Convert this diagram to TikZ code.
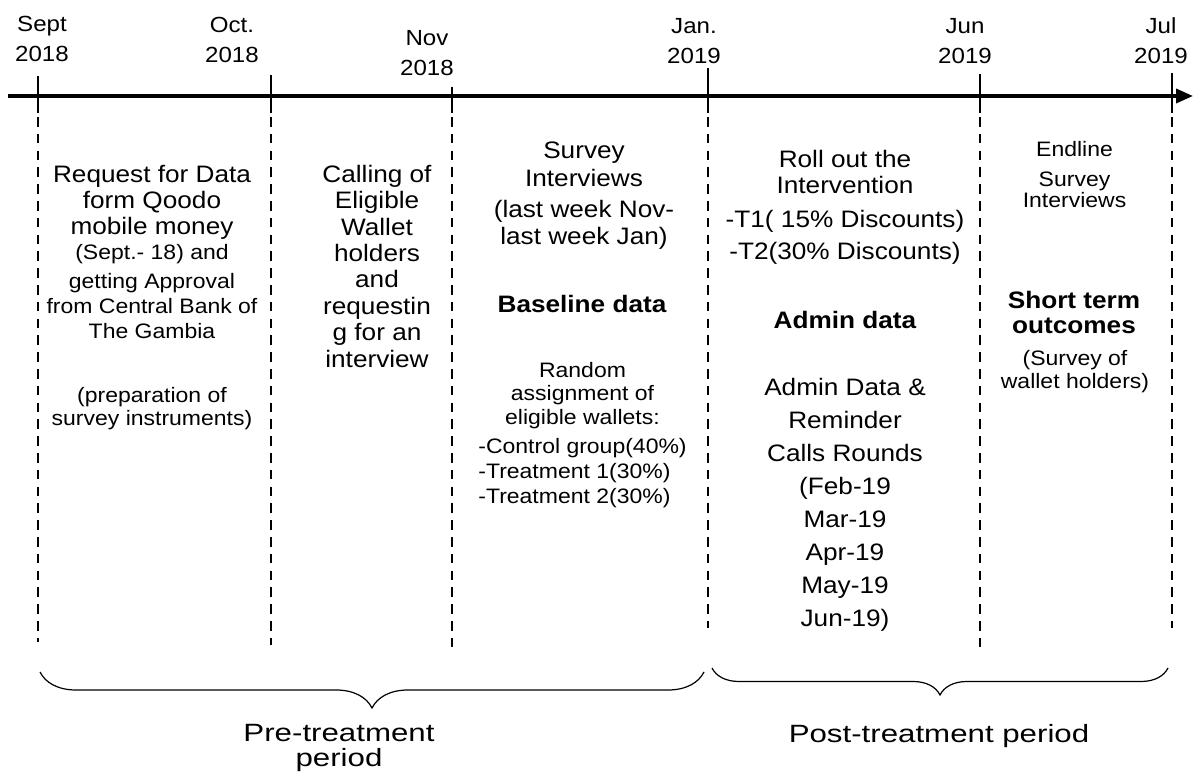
\documentclass[tikz,border=0pt]{standalone}
\usepackage{fontspec}
\setmainfont{Liberation Sans}[FakeStretch=1.1]
\newfontfamily\widefont{Liberation Sans}[FakeStretch=1.25]
\usetikzlibrary{arrows.meta, decorations.pathreplacing}
\newcommand{\txtsize}[2]{\fontsize{#1}{#2}\selectfont}

\begin{document}
\begin{tikzpicture}[x=5pt, y=5pt, inner sep=0pt,
  axisline/.style={line width=1.75pt, -{Triangle[length=8.5pt,width=7pt]}},
  tickline/.style={line width=1pt},
  dashline/.style={line width=1pt, dash pattern=on 4.8pt off 3.6pt},
  datelbl/.style={anchor=south, align=center, font=\txtsize{10.95}{14.7}},
  bigtxt/.style={anchor=north, align=center, font=\txtsize{11.9}{13}},
  smalltxt/.style={anchor=north, align=center, font=\txtsize{10.45}{12.5}},
  boldtxt/.style={anchor=north, align=center, font=\bfseries\txtsize{11.9}{12.8}},
  periodlbl/.style={anchor=north, align=center, font=\widefont\txtsize{12.5}{12.5}},
  bracelines/.style={line width=0.6pt, decorate, decoration={brace, mirror, amplitude=#1}}]
\useasboundingbox (0,0) rectangle (119.4,78.1);
% time axis
\coordinate (axisstart) at (0.8,68.5);
\coordinate (axisend) at (119.3,68.5);
\coordinate (tickend) at (0,66.8);
\coordinate (dashstart) at (0,66.4);
\draw[axisline] (axisstart) -- (axisend);
% dates
\node[datelbl] (sept) at (4.2,71.9) {Sept\\2018};
\node[datelbl] (oct) at (23.2,71.8) {Oct.\\2018};
\node[datelbl] (nov) at (42.7,70.5) {Nov\\2018};
\node[datelbl] (jan) at (69.4,71.7) {Jan.\\2019};
\node[datelbl] (jun) at (96.5,71.7) {Jun\\2019};
\node[datelbl] (jul) at (116.1,71.7) {Jul\\2019};
% ticks and period lines
\coordinate (septtop) at (3.8,70.5);
\coordinate (septbot) at (3.8,13.9);
\draw[tickline] (septtop) -- (septtop |- tickend);
\draw[dashline] (septtop |- dashstart) -- (septbot);
\coordinate (octtop) at (27.1,70.6);
\coordinate (octbot) at (27.1,13.6);
\draw[tickline] (octtop) -- (octtop |- tickend);
\draw[dashline] (octtop |- dashstart) -- (octbot);
\coordinate (novtop) at (45.2,69.4);
\coordinate (novbot) at (45.2,13.2);
\draw[tickline] (novtop) -- (novtop |- tickend);
\draw[dashline] (novtop |- dashstart) -- (novbot);
\coordinate (jantop) at (70.8,71.3);
\coordinate (janbot) at (70.8,15.3);
\draw[tickline] (jantop) -- (jantop |- tickend);
\draw[dashline] (jantop |- dashstart) -- (janbot);
\coordinate (juntop) at (98.0,70.7);
\coordinate (junbot) at (98.0,13.2);
\draw[tickline] (juntop) -- (juntop |- tickend);
\draw[dashline] (juntop |- dashstart) -- (junbot);
\coordinate (jultop) at (117.2,70.8);
\coordinate (julbot) at (117.2,15.3);
\draw[tickline] (jultop) -- (jultop |- tickend);
\draw[dashline] (jultop |- dashstart) -- (julbot);
% sept - oct
\node[bigtxt] (request) at (15.2,61.64) {Request for Data\\form Qoodo\\mobile money};
\node[smalltxt] (approval) at (15.2,53.7) {(Sept.- 18) and\\[2pt]getting Approval\\from Central Bank of\\The Gambia};
\node[smalltxt, font=\txtsize{10.45}{11.5}] (prep) at (15.2,39.4) {(preparation of\\survey instruments)};
% oct - nov
\node[bigtxt, font=\txtsize{11.9}{13.2}] (calling) at (37.7,61.64) {Calling of\\Eligible\\Wallet\\holders\\and\\requestin\\g for an\\interview};
% nov - jan
\node[bigtxt, font=\txtsize{11.9}{13.3}] (survey) at (58.4,63.98) {Survey\\[0.7pt]Interviews\\[2.5pt](last week Nov-\\last week Jan)};
\node[boldtxt] (baseline) at (58.2,48.64) {Baseline data};
\node[smalltxt, font=\txtsize{10.45}{11.7}] (random) at (58.25,41.93) {Random\\assignment of\\eligible wallets:};
\node[smalltxt, anchor=north west, align=left] (groups) at (47.8,34.27) {-Control group(40\%)\\-Treatment 1(30\%)\\-Treatment 2(30\%)};
% jan - jun
\node[bigtxt, font=\txtsize{11.9}{16.2}] (rollout) at (84.5,63.08) {Roll out the\\[-3.2pt]Intervention\\[0.5pt]-T1( 15\% Discounts)\\-T2(30\% Discounts)};
\node[boldtxt] (admin) at (84.5,46.98) {Admin data};
\node[bigtxt, font=\txtsize{11.9}{16.5}] (rounds) at (84.5,40.31) {Admin Data \&\\Reminder\\Calls Rounds\\(Feb-19\\Mar-19\\Apr-19\\May-19\\Jun-19)};
% jun - jul
\node[smalltxt, font=\txtsize{10.45}{10.5}] (endline) at (107.45,64.0) {Endline\\[4.5pt]Survey\\Interviews};
\node[boldtxt] (shortterm) at (107.4,49.04) {Short term\\outcomes};
\node[smalltxt, font=\txtsize{10.45}{11.7}] (walletsurv) at (107.5,43.1) {(Survey of\\wallet holders)};
% periods
\coordinate (prel) at (4.0,10.9);
\coordinate (prer) at (70.4,10.9);
\draw[bracelines=18pt] (prel) -- (prer);
\coordinate (postl) at (71.2,11.3);
\coordinate (postr) at (116.8,11.3);
\draw[bracelines=13.5pt] (postl) -- (postr);
\node[periodlbl] (pre) at (33.9,5.73) {Pre-treatment\\period};
\node[periodlbl] (post) at (93.9,5.73) {Post-treatment period};
\end{tikzpicture}
\end{document}
